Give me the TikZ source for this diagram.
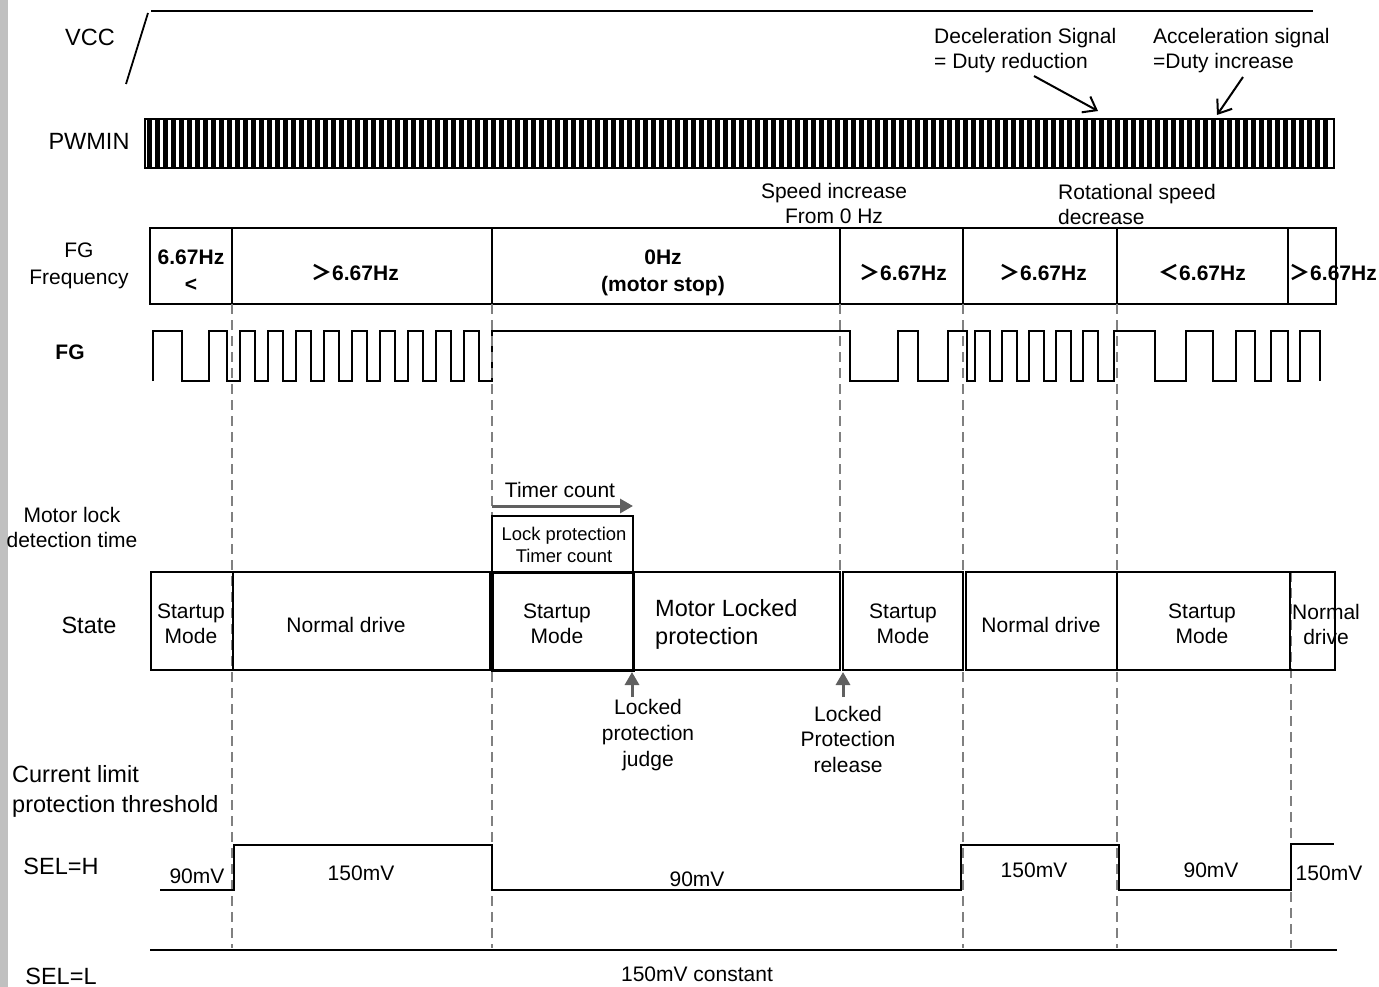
\documentclass[tikz,border=0pt]{standalone}
\usepackage{fontspec}
\setmainfont{Liberation Sans}
\newfontfamily\cjk{Noto Sans CJK SC}
\usetikzlibrary{arrows.meta}
\definecolor{arrgrey}{HTML}{606060}
\definecolor{dashgrey}{HTML}{808080}
\definecolor{bargrey}{HTML}{C0C0C0}
\begin{document}
\begin{tikzpicture}[x=1pt,y=-1pt,
  txt/.style={font=\fontsize{21}{25}\selectfont, inner sep=0pt, align=center},
  big/.style={font=\fontsize{23.5}{27}\selectfont, inner sep=0pt, align=center},
  small/.style={font=\fontsize{18.4}{22}\selectfont, inner sep=0pt, align=center},
  freq/.style={font=\fontsize{21}{27}\selectfont\bfseries, inner sep=0pt, align=center},
  wave/.style={line width=2pt, line join=miter},
  boxline/.style={line width=1.5pt},
  guide/.style={dashgrey, line width=1.6pt, dash pattern=on 10pt off 6pt},
  blackarrow/.style={line width=2pt, -{Straight Barb[length=12pt,width=18pt,line width=2pt]}},
  greyarrow/.style={arrgrey, line width=3pt, -{Triangle[length=13pt,width=14pt]}}
]
\useasboundingbox (0,0) rectangle (1379,987);
\fill[bargrey] (0,0) rectangle (8,987);

% ---------- VCC ----------
\node[big] (lvcc) at (90,37) {VCC};
\draw[line width=1.8pt] (126,84) -- (148,13);
\draw[line width=1.8pt] (151,11) -- (1313,11);

% ---------- PWMIN ----------
\node[big] (lpwm) at (89,141) {PWMIN};
\foreach \i in {0,...,147} {
  \fill ({147+8*\i},119) rectangle ({152+8*\i},168);
}
\draw[line width=1.5pt] (145,119) rectangle (1334,168);

\node[txt, anchor=west, align=left] (ldec) at (934,51) {Deceleration Signal\\= Duty reduction};
\node[txt, anchor=west, align=left] (lacc) at (1153,51) {Acceleration signal\\=Duty increase};
\coordinate (dtail) at (1034,76);
\coordinate (dtip) at (1098,111);
\coordinate (atail) at (1243,77);
\coordinate (atip) at (1217,115);
\draw[blackarrow] (dtail) -- (dtip);
\draw[blackarrow] (atail) -- (atip);

\node[txt] (lspeed) at (834,203) {Speed increase\\From 0 Hz};
\node[txt, anchor=west, align=left] (lrot) at (1058,204) {Rotational speed\\decrease};

% ---------- FG frequency ----------
\node[txt, font=\fontsize{21}{27}\selectfont] (lfreq) at (79,266) {FG\\Frequency};
\draw[boxline] (150,228) rectangle (1336,304);
\foreach \x in {232,492,840,963,1117,1288} {
  \draw[boxline] (\x,228) -- (\x,304);
}
\node[freq] (f1) at (191,271) {6.67Hz\\<};
\node[freq] (f2) at (355,272) {{\cjk ＞}6.67Hz};
\node[freq] (f3) at (663,273) {0Hz\\(motor stop)};
\node[freq] (f4) at (903,272) {{\cjk ＞}6.67Hz};
\node[freq] (f5) at (1043,272) {{\cjk ＞}6.67Hz};
\node[freq] (f6) at (1202,272) {{\cjk ＜}6.67Hz};
\node[freq] (f7) at (1333,272) {{\cjk ＞}6.67Hz};

% ---------- FG waveform ----------
\node[txt, font=\fontsize{21}{25}\selectfont\bfseries] (lfg) at (70,352) {FG};
\draw[wave] (153,381) -- (153,331) -- (182,331) -- (182,381) -- (209,381) -- (209,331)
  -- (227,331) -- (227,381) -- (240,381)
  \foreach \k in {0,...,8} { -- ({240+28*\k},331) -- ({255+28*\k},331) -- ({255+28*\k},381) -- ({268+28*\k},381) }
  -- (492,331) -- (850,331) -- (850,381) -- (898,381) -- (898,331) -- (918,331) -- (918,381)
  -- (948,381) -- (948,331) -- (967,331) -- (967,381) -- (975,381)
  \foreach \k in {0,...,4} { -- ({975+27*\k},331) -- ({990+27*\k},331) -- ({990+27*\k},381) -- ({1002+27*\k},381) }
  -- (1114,381) -- (1114,331) -- (1155,331) -- (1155,381) -- (1186,381) -- (1186,331) -- (1213,331)
  -- (1213,381) -- (1236,381) -- (1236,331) -- (1255,331) -- (1255,381) -- (1271,381) -- (1271,331)
  -- (1288,331) -- (1288,381) -- (1300,381) -- (1300,331) -- (1320,331) -- (1320,381);

% ---------- guide lines ----------
\foreach \x in {232,492,963,1117} {
  \draw[guide] (\x,304) -- (\x,948);
}
\draw[guide] (840,304) -- (840,572);
\draw[guide] (1291,572) -- (1291,948);

% ---------- Motor lock detection ----------
\node[txt] (llock) at (72,527) {Motor lock\\detection time};
\coordinate (tstart) at (492,506);
\coordinate (tend) at (633,506);
\draw[greyarrow] (tstart) -- (tend);
\node[txt] (ltimer) at (560,490) {Timer count};
\draw[line width=2pt] (492,516) rectangle (633,572);
\node[small] (llpt) at (564,545) {Lock protection\\Timer count};

% ---------- State ----------
\node[big] (lstate) at (89,625) {State};
\draw[boxline] (151,572) rectangle (233,670);
\draw[boxline] (233,572) rectangle (490,670);
\draw[line width=3pt] (492,572) rectangle (633,670);
\draw[boxline] (633,572) rectangle (840,670);
\draw[boxline] (843,572) rectangle (963,670);
\draw[boxline] (966,572) rectangle (1117,670);
\draw[boxline] (1117,572) rectangle (1290,670);
\draw[boxline] (1290,572) rectangle (1335,670);
\node[txt] (s1) at (191,624) {Startup\\Mode};
\node[txt] (s2) at (346,625) {Normal drive};
\node[txt] (s3) at (557,624) {Startup\\Mode};
\node[big, anchor=west, align=left, font=\fontsize{23.5}{28}\selectfont] (s4) at (655,624) {Motor Locked\\protection};
\node[txt] (s5) at (903,624) {Startup\\Mode};
\node[txt] (s6) at (1041,625) {Normal drive};
\node[txt] (s7) at (1202,624) {Startup\\Mode};
\node[txt] (s8) at (1326,624) {Normal\\drive};

\coordinate (jtip) at (632,672);
\coordinate (jtail) at (632,697);
\coordinate (rtip) at (843,672);
\coordinate (rtail) at (843,697);
\draw[greyarrow] (jtail) -- (jtip);
\draw[greyarrow] (rtail) -- (rtip);
\node[txt, font=\fontsize{21}{26}\selectfont] (ljudge) at (648,735) {Locked\\protection\\judge};
\node[txt, font=\fontsize{21}{25.5}\selectfont] (lrel) at (848,739) {Locked\\Protection\\release};

% ---------- Current limit ----------
\node[big, anchor=west, align=left, font=\fontsize{23.5}{30}\selectfont] (lcur) at (12,791) {Current limit\\protection threshold};
\node[big] (lselh) at (61,866) {SEL=H};
\node[big] (lsell) at (61,976) {SEL=L};
\draw[line width=2.5pt] (160,890) -- (234,890) -- (234,845) -- (492,845) -- (492,890) -- (961,890)
  -- (961,845) -- (1119,845) -- (1119,890) -- (1291,890) -- (1291,844) -- (1334,844);
\draw[line width=2.5pt] (150,950) -- (1337,950);
\node[txt] (v1) at (197,876) {90mV};
\node[txt] (v2) at (361,873) {150mV};
\node[txt] (v3) at (697,879) {90mV};
\node[txt] (v4) at (1034,870) {150mV};
\node[txt] (v5) at (1211,870) {90mV};
\node[txt] (v6) at (1329,873) {150mV};
\node[txt] (v7) at (697,974) {150mV constant};
\end{tikzpicture}
\end{document}
